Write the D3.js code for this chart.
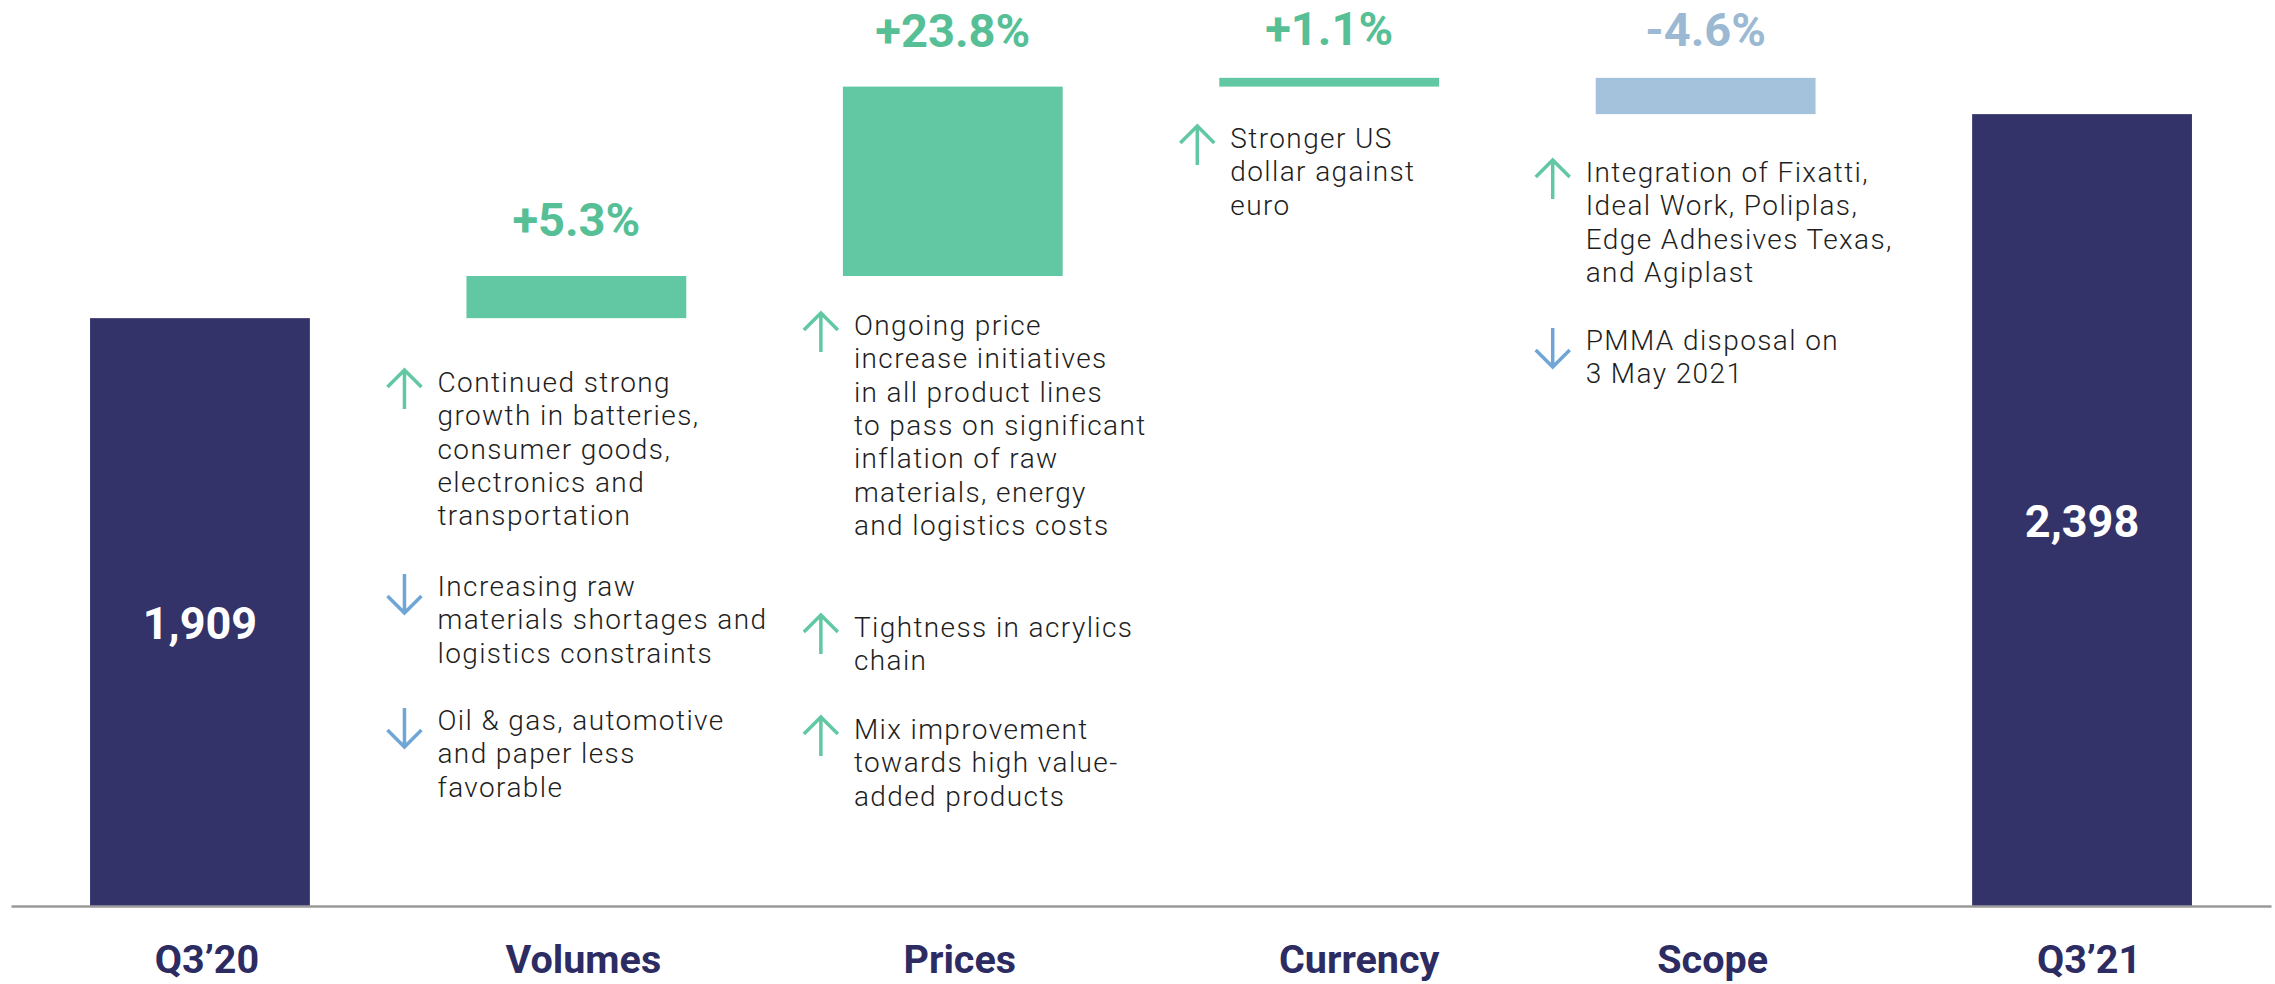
<!DOCTYPE html>
<html>
<head>
<meta charset="utf-8">
<script src="https://cdn.jsdelivr.net/npm/d3@7"></script>
<style>
  html, body { margin: 0; padding: 0; background: #ffffff; }
  #container { width: 2275px; height: 984px; }
  svg { display: block; }
</style>
</head>
<body>
<div id="container"></div>
<script>
// Sales bridge Q3'20 -> Q3'21 (in € millions)

//_____ DATA _____
const categories = [ 'Q3’20', 'Volumes', 'Prices', 'Currency', 'Scope', 'Q3’21' ];
const startValue = 1909;
const endValue = 2398;
//>>> Bridge steps (same order as categories[1..4]):
const stepPct = [ 5.3, 23.8, 1.1, -4.6 ];
const stepValues = [ 101, 454, 21, -87 ];

//>>> Comments under each step:
const volumesNotes = [
  { dir: 'up', lines: [ 'Continued strong', 'growth in batteries,', 'consumer goods,', 'electronics and', 'transportation' ] },
  { dir: 'down', lines: [ 'Increasing raw', 'materials shortages and', 'logistics constraints' ] },
  { dir: 'down', lines: [ 'Oil & gas, automotive', 'and paper less', 'favorable' ] }
];
const pricesNotes = [
  { dir: 'up', lines: [ 'Ongoing price', 'increase initiatives', 'in all product lines', 'to pass on significant', 'inflation of raw', 'materials, energy', 'and logistics costs' ] },
  { dir: 'up', lines: [ 'Tightness in acrylics', 'chain' ] },
  { dir: 'up', lines: [ 'Mix improvement', 'towards high value-', 'added products' ] }
];
const currencyNotes = [
  { dir: 'up', lines: [ 'Stronger US', 'dollar against', 'euro' ] }
];
const scopeNotes = [
  { dir: 'up', lines: [ 'Integration of Fixatti,', 'Ideal Work, Poliplas,', 'Edge Adhesives Texas,', 'and Agiplast' ] },
  { dir: 'down', lines: [ 'PMMA disposal on', '3 May 2021' ] }
];


//_____ VARIABLES _____
//>>> DOM and layout:
const width = 2275;
const height = 984;
const baseY = 906;
const lineHeight = 33.3;

//>>> Note blocks layout (first baseline of each note, text offset from the bar's left edge):
const noteLayout = [
  { cat: 'Volumes', notes: volumesNotes, dx: -29, baselines: [ 392, 596, 730 ] },
  { cat: 'Prices', notes: pricesNotes, dx: 11, baselines: [ 335, 637, 739 ] },
  { cat: 'Currency', notes: currencyNotes, dx: 11, baselines: [ 148 ] },
  { cat: 'Scope', notes: scopeNotes, dx: -10, baselines: [ 182, 350 ] }
];

//>>> Category labels sit a little right of the bar centre:
const tickDx = c => c === 'Currency' ? 30 : 7;

//>>> Styling:
const navy = '#33336a';
const labelNavy = '#2c2c63';
const green = '#61c8a3';
const greenText = '#56bf96';
const lightBlue = '#a4c2db';
const blueText = '#9cb9d3';
const arrowBlue = '#6fa6d6';
const textColor = '#1e1e1e';
const boldFont = 'Roboto, "Liberation Sans", sans-serif';
const bodyFont = 'Roboto, "Noto Sans", sans-serif';


//_____ BUILD THE WATERFALL _____
const bars = [];
let running = startValue;
bars.push( { cat: categories[ 0 ], y0: 0, y1: startValue, type: 'total', label: d3.format( ',' )( startValue ) } );
stepValues.forEach( ( v, i ) => {
  bars.push( {
    cat: categories[ i + 1 ],
    y0: running,
    y1: running + v,
    type: v >= 0 ? 'up' : 'down',
    label: ( stepPct[ i ] > 0 ? '+' : '' ) + stepPct[ i ].toFixed( 1 ) + '%'
  } );
  running += v;
} );
bars.push( { cat: categories[ 5 ], y0: 0, y1: endValue, type: 'total', label: d3.format( ',' )( endValue ) } );


//_____ SVG _____
const svg = d3.select( '#container' )
  .append( 'svg' )
  .attr( 'width', width )
  .attr( 'height', height );


//_____ SCALES _____
const xScale = d3.scaleBand()
  .domain( categories )
  .range( [ 11, 2271 ] )
  .paddingInner( 0.416 )
  .paddingOuter( 0.21 );

//--- Truncated value axis (bars start at 500):
const yScale = d3.scaleLinear()
  .domain( [ 500, 2400 ] )
  .range( [ baseY, 113.3 ] );

const yPos = v => yScale( Math.max( v, 500 ) );


//_____ BARS _____
const fillFor = d => d.type === 'total' ? navy : ( d.type === 'up' ? green : lightBlue );

svg.selectAll( '.bar' )
  .data( bars )
  .enter().append( 'rect' )
  .attr( 'class', 'bar' )
  .attr( 'x', d => xScale( d.cat ) )
  .attr( 'y', d => Math.min( yPos( d.y0 ), yPos( d.y1 ) ) )
  .attr( 'width', xScale.bandwidth() )
  .attr( 'height', d => Math.abs( yPos( d.y0 ) - yPos( d.y1 ) ) )
  .attr( 'fill', fillFor );


//_____ BASELINE _____
const xAxis = d3.axisBottom( xScale ).tickSize( 0 ).tickPadding( 39 );

const axisG = svg.append( 'g' )
  .attr( 'transform', `translate( 0, ${baseY} )` )
  .call( xAxis );

axisG.select( '.domain' )
  .attr( 'stroke', '#9a9a9a' )
  .attr( 'stroke-width', 2.5 );

axisG.selectAll( '.tick text' )
  .attr( 'fill', labelNavy )
  .attr( 'dx', d => tickDx( d ) )
  .attr( 'dy', '0.71em' )
  .style( 'font-family', boldFont )
  .style( 'font-weight', 700 )
  .style( 'font-size', '39.5px' );


//_____ VALUE LABELS _____
//>>> Totals inside the bars:
svg.selectAll( '.total-label' )
  .data( bars.filter( d => d.type === 'total' ) )
  .enter().append( 'text' )
  .attr( 'class', 'total-label' )
  .attr( 'x', d => xScale( d.cat ) + xScale.bandwidth() / 2 )
  .attr( 'y', d => ( yPos( d.y1 ) + baseY ) / 2 + 27 )
  .attr( 'text-anchor', 'middle' )
  .attr( 'fill', '#ffffff' )
  .style( 'font-family', boldFont )
  .style( 'font-weight', 700 )
  .style( 'font-size', '45px' )
  .text( d => d.label );

//>>> Percentages above the steps (kept inside the top edge):
svg.selectAll( '.step-label' )
  .data( bars.filter( d => d.type !== 'total' ) )
  .enter().append( 'text' )
  .attr( 'class', 'step-label' )
  .attr( 'x', d => xScale( d.cat ) + xScale.bandwidth() / 2 )
  .attr( 'y', d => Math.max( Math.min( yPos( d.y0 ), yPos( d.y1 ) ) - ( d.type === 'up' ? 40 : 32 ), 45 ) )
  .attr( 'text-anchor', 'middle' )
  .attr( 'fill', d => d.type === 'up' ? greenText : blueText )
  .style( 'font-family', boldFont )
  .style( 'font-weight', 700 )
  .style( 'font-size', '47px' )
  .text( d => d.label );


//_____ NOTES _____
const arrowLen = 39;
const headW = 17;
const headL = 17;

noteLayout.forEach( block => {
  const textX = xScale( block.cat ) + block.dx;
  const arrowX = textX - 33;

  block.notes.forEach( ( note, i ) => {
    const firstBase = block.baselines[ i ];
    const top = firstBase - 22;
    const g = svg.append( 'g' ).attr( 'class', 'note' );

    //>>> Arrow:
    const color = note.dir === 'up' ? green : arrowBlue;
    const path = d3.path();
    path.moveTo( arrowX, top );
    path.lineTo( arrowX, top + arrowLen );
    if ( note.dir === 'up' ) {
      path.moveTo( arrowX - headW, top + headL );
      path.lineTo( arrowX, top );
      path.lineTo( arrowX + headW, top + headL );
    } else {
      path.moveTo( arrowX - headW, top + arrowLen - headL );
      path.lineTo( arrowX, top + arrowLen );
      path.lineTo( arrowX + headW, top + arrowLen - headL );
    }
    g.append( 'path' )
      .attr( 'd', path.toString() )
      .attr( 'fill', 'none' )
      .attr( 'stroke', color )
      .attr( 'stroke-width', 3.5 );

    //>>> Text lines:
    g.selectAll( 'text' )
      .data( note.lines )
      .enter().append( 'text' )
      .attr( 'x', textX )
      .attr( 'y', ( d, j ) => firstBase + j * lineHeight )
      .attr( 'fill', textColor )
      .style( 'font-family', bodyFont )
      .style( 'font-weight', 300 )
      .style( 'font-size', '28px' )
      .style( 'letter-spacing', '1.4px' )
      .text( d => d );
  } );
} );
</script>
</body>
</html>
